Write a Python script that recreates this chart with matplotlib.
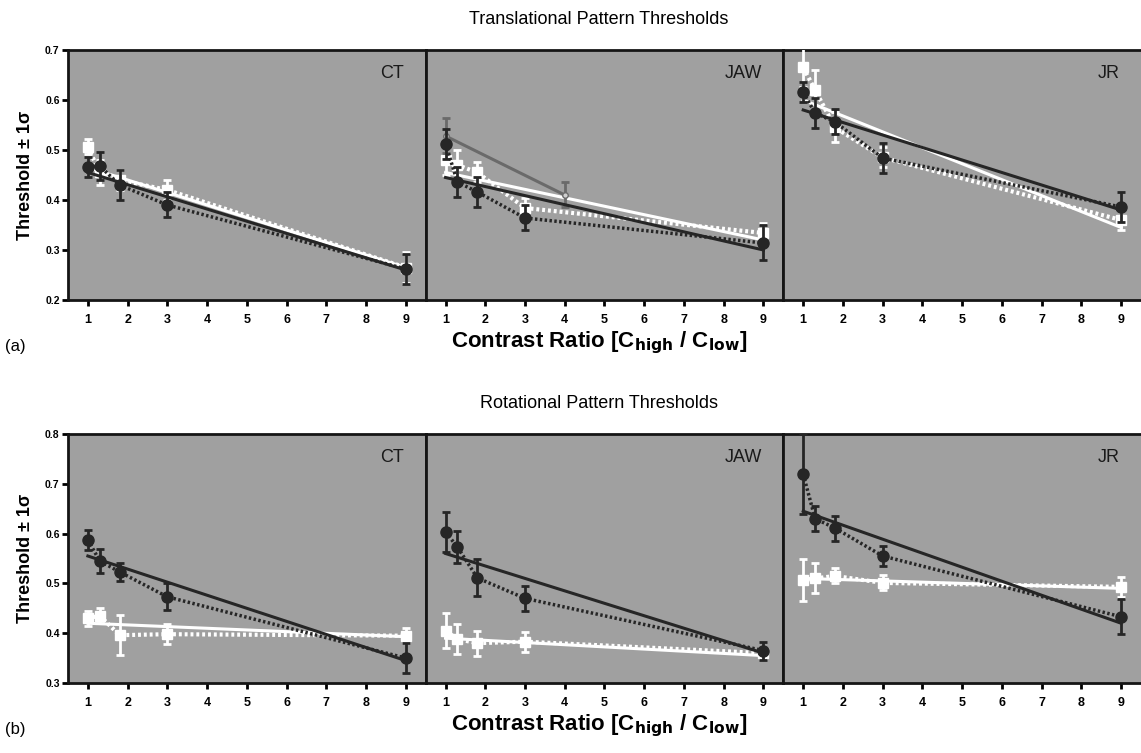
import matplotlib
matplotlib.use("Agg")
import matplotlib.pyplot as plt

plt.rcParams['font.family'] = ['Liberation Sans', 'DejaVu Sans']
NARROW = ['Liberation Sans Narrow', 'Liberation Sans', 'DejaVu Sans']

ratios = [1, 1.3, 1.8, 3, 9]
subjects = ["CT", "JAW", "JR"]
fit_x = [1, 9]

# translational thresholds (a)
tr_circ = [[0.466, 0.468, 0.430, 0.390, 0.262],
           [0.512, 0.436, 0.416, 0.364, 0.314],
           [0.615, 0.574, 0.556, 0.484, 0.386]]
tr_circ_err = [[0.02, 0.028, 0.03, 0.025, 0.03],
               [0.03, 0.03, 0.03, 0.025, 0.035],
               [0.02, 0.03, 0.025, 0.03, 0.03]]
tr_sq = [[0.506, 0.455, 0.44, 0.42, 0.265],
         [0.48, 0.47, 0.455, 0.384, 0.334],
         [0.665, 0.62, 0.545, 0.485, 0.36]]
tr_sq_err = [[0.015, 0.025, 0.02, 0.02, 0.03],
             [0.03, 0.03, 0.02, 0.02, 0.02],
             [0.04, 0.04, 0.03, 0.02, 0.02]]
tr_circ_fit = [[0.455, 0.26], [0.445, 0.30], [0.58, 0.38]]
tr_sq_fit = [[0.465, 0.265], [0.455, 0.32], [0.60, 0.345]]
# extra grey series in JAW panel
jaw_grey_x = [1, 4]
jaw_grey_y = [0.528, 0.41]
jaw_grey_err = [0.035, 0.025]

# rotational thresholds (b)
rot_circ = [[0.587, 0.545, 0.523, 0.473, 0.35],
            [0.603, 0.573, 0.511, 0.47, 0.365],
            [0.719, 0.63, 0.611, 0.555, 0.433]]
rot_circ_err = [[0.02, 0.025, 0.018, 0.027, 0.03],
                [0.04, 0.033, 0.037, 0.025, 0.018],
                [0.08, 0.025, 0.025, 0.02, 0.035]]
rot_sq = [[0.43, 0.435, 0.396, 0.398, 0.395],
          [0.405, 0.388, 0.38, 0.383, 0.36],
          [0.506, 0.51, 0.515, 0.501, 0.493]]
rot_sq_err = [[0.015, 0.015, 0.04, 0.02, 0.015],
              [0.035, 0.03, 0.025, 0.02, 0.01],
              [0.042, 0.03, 0.015, 0.015, 0.02]]
rot_circ_fit = [[0.555, 0.345], [0.56, 0.36], [0.645, 0.42]]
rot_sq_fit = [[0.42, 0.393], [0.39, 0.355], [0.51, 0.49]]

BG = "#a0a0a0"
DARK = "#262626"


def draw_row(fig, bottom, height, circ, circ_err, sq, sq_err, circ_fit, sq_fit,
             ylim, yticks, title, tag, grey=False):
    left = 68 / 1141
    width = (1141 - 68) / 1141 / 3
    axes = []
    for k in range(3):
        ax = fig.add_axes([left + k * width, bottom, width, height])
        ax.set_facecolor(BG)
        ax.set_xlim(0.5, 9.5)
        ax.set_ylim(*ylim)
        ax.set_xticks(range(1, 10))
        ax.set_xticklabels([str(i) for i in range(1, 10)], fontsize=9, fontweight="bold",
                           family=NARROW)
        ax.tick_params(axis="x", direction="out", length=4, width=2, pad=6)
        if k == 0:
            ax.set_yticks(yticks)
            ax.set_yticklabels(["%.1f" % v for v in yticks], fontsize=7.5, fontweight="bold",
                               family=NARROW)
            ax.tick_params(axis="y", direction="out", length=4, width=2, pad=2)
            ax.set_ylabel("Threshold \u00b1 1\u03c3", fontsize=13, fontweight="bold", labelpad=8)
        else:
            ax.set_yticks([])
        for s in ax.spines.values():
            s.set_linewidth(2)
            s.set_color("#151515")
        if k == 2:
            ax.spines["right"].set_visible(False)

        # white squares: dotted data line + solid fit
        ax.plot(ratios, sq[k], ls=(0, (0.7, 0.7)), lw=3, color="white", zorder=2)
        ax.plot(fit_x, sq_fit[k], ls="-", lw=2.2, color="white", zorder=3)
        ax.errorbar(ratios, sq[k], yerr=sq_err[k], fmt="s", ms=7, color="white",
                    mec="white", ecolor="white", elinewidth=2, capsize=3, capthick=2, zorder=4)

        if grey and k == 1:
            ax.errorbar(jaw_grey_x, jaw_grey_y, yerr=jaw_grey_err, fmt="-o", ms=4, color="#6a6a6a",
                        mfc="#cfcfcf", mec="#6a6a6a", lw=2.2, elinewidth=2, capsize=3,
                        capthick=2, zorder=5)

        # dark circles: dotted data line + solid fit
        ax.plot(ratios, circ[k], ls=(0, (0.7, 0.7)), lw=2.5, color=DARK, zorder=5)
        ax.plot(fit_x, circ_fit[k], ls="-", lw=2.2, color=DARK, zorder=5)
        ax.errorbar(ratios, circ[k], yerr=circ_err[k], fmt="o", ms=8, color=DARK,
                    ecolor=DARK, elinewidth=2, capsize=3, capthick=2, zorder=6)

        ax.text(0.94, 0.94, subjects[k], transform=ax.transAxes, ha="right", va="top",
                fontsize=13, color="#1a1a1a", family=NARROW)
        axes.append(ax)

    fig.text(0.525, bottom + height + 0.04, title, ha="center", va="center", fontsize=13,
             family=NARROW)
    fig.text(0.525, bottom - 0.057, "Contrast Ratio [C$_{\\mathbf{high}}$ / C$_{\\mathbf{low}}$]",
             ha="center", va="center", fontsize=16, fontweight="bold", family=NARROW)
    fig.text(0.004, bottom - 0.062, tag, ha="left", va="center", fontsize=12, family=NARROW)
    return axes


fig = plt.figure(figsize=(11.41, 7.53), dpi=100)

draw_row(fig, 1 - 300 / 753, 250 / 753, tr_circ, tr_circ_err, tr_sq, tr_sq_err,
         tr_circ_fit, tr_sq_fit, (0.2, 0.7), [0.2, 0.3, 0.4, 0.5, 0.6, 0.7],
         "Translational Pattern Thresholds", "(a)", grey=True)
draw_row(fig, 1 - 683 / 753, 249 / 753, rot_circ, rot_circ_err, rot_sq, rot_sq_err,
         rot_circ_fit, rot_sq_fit, (0.3, 0.8), [0.3, 0.4, 0.5, 0.6, 0.7, 0.8],
         "Rotational Pattern Thresholds", "(b)")

fig.savefig("out.png", dpi=100)
